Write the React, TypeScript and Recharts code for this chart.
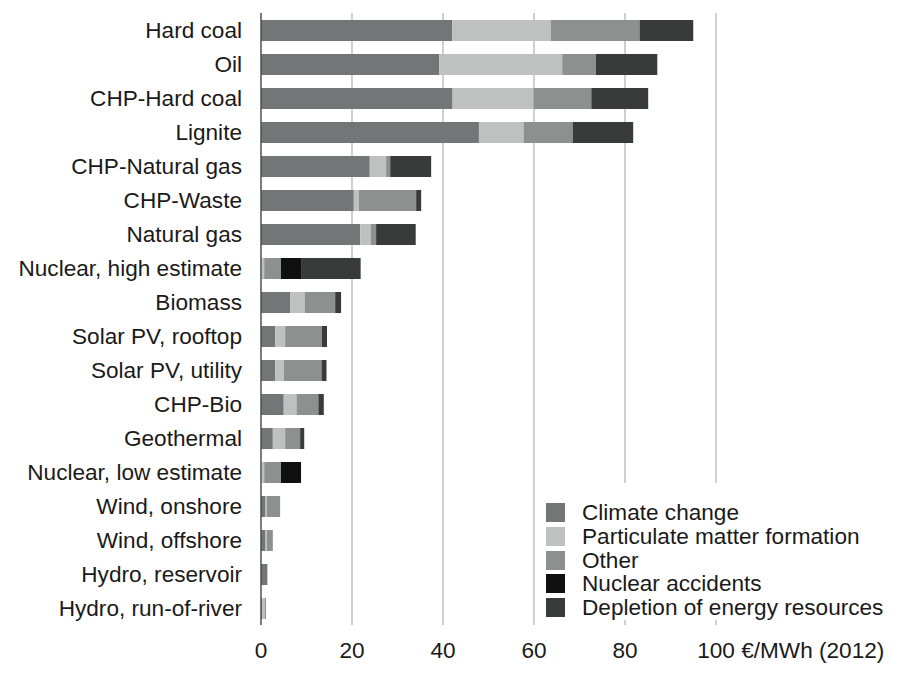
import React from 'react';
import { BarChart, Bar, XAxis, YAxis, CartesianGrid } from 'recharts';

const categories = [
  'Hard coal', 'Oil', 'CHP-Hard coal', 'Lignite', 'CHP-Natural gas', 'CHP-Waste',
  'Natural gas', 'Nuclear, high estimate', 'Biomass', 'Solar PV, rooftop',
  'Solar PV, utility', 'CHP-Bio', 'Geothermal', 'Nuclear, low estimate',
  'Wind, onshore', 'Wind, offshore', 'Hydro, reservoir', 'Hydro, run-of-river',
];
const climateChange = [42.0, 39.2, 42.1, 47.9, 23.9, 20.4, 21.8, 0.1, 6.4, 3.1, 3.1, 5.0, 2.6, 0.1, 1.0, 1.0, 1.4, 0.2];
const particulate = [21.7, 27.0, 17.8, 9.8, 3.6, 1.1, 2.3, 0.6, 3.2, 2.2, 1.9, 2.8, 2.7, 0.6, 0.3, 0.3, 0, 0.6];
const other = [19.5, 7.4, 12.7, 10.8, 0.9, 12.6, 1.2, 3.7, 6.7, 8.1, 8.3, 4.8, 3.3, 3.7, 2.9, 1.3, 0, 0.3];
const nuclearAccidents = [0, 0, 0, 0, 0, 0, 0, 4.4, 0, 0, 0, 0, 0, 4.4, 0, 0, 0, 0];
const depletion = [11.8, 13.5, 12.5, 13.3, 9.0, 1.1, 8.7, 13.1, 1.3, 1.1, 1.1, 1.2, 0.9, 0, 0, 0, 0, 0];
const xTicks = [0, 20, 40, 60, 80, 100];

const seriesNames = ['Climate change', 'Particulate matter formation', 'Other', 'Nuclear accidents', 'Depletion of energy resources'];
const seriesKeys = ['climate', 'pm', 'other', 'nuclear', 'depletion'];
const seriesColors = ['#737677', '#bfc1c1', '#8c9190', '#0f100f', '#393b3a'];

const data = categories.map((name, i) => ({
  name,
  climate: climateChange[i],
  pm: particulate[i],
  other: other[i],
  nuclear: nuclearAccidents[i],
  depletion: depletion[i],
}));

const FONT = '"Liberation Sans", Arial, Helvetica, sans-serif';
const TEXT = '#1a1a1a';
const FS = 22.6;

const YTick = (props: any) => {
  const { y, payload } = props;
  return (
    <text x={242} y={y} dy="0.36em" textAnchor="end" fontSize={FS} fontFamily={FONT} fill={TEXT}>
      {payload.value}
    </text>
  );
};

const XTick = (props: any) => {
  const { x, payload } = props;
  if (payload.value === 100) {
    return (
      <text x={x - 18.8} y={658} textAnchor="start" fontSize={FS} fontFamily={FONT} fill={TEXT}>
        100 €/MWh (2012)
      </text>
    );
  }
  return (
    <text x={x} y={658} textAnchor="middle" fontSize={FS} fontFamily={FONT} fill={TEXT}>
      {payload.value}
    </text>
  );
};

const LegendBox = () => (
  <div style={{ position: 'absolute', left: 535, top: 483, width: 360, height: 137, background: '#fff', fontFamily: FONT, zIndex: 2 }}>
    {seriesNames.map((n, i) => (
      <div key={n} style={{ position: 'absolute', left: 11, top: 20 + i * 23.75, height: 19, display: 'flex', alignItems: 'center' }}>
        <div style={{ width: 19, height: 19, background: seriesColors[i] }} />
        <span style={{ marginLeft: 17, fontSize: FS, color: TEXT, whiteSpace: 'nowrap', lineHeight: '19px' }}>{n}</span>
      </div>
    ))}
  </div>
);

export default function App() {
  return (
    <div style={{ position: 'absolute', left: 0, top: 0, width: 900, height: 675, background: '#fff' }}>
      <BarChart
        width={900}
        height={675}
        data={data}
        layout="vertical"
        margin={{ top: 13, right: 184, bottom: 0, left: 1 }}
        barSize={21}
      >
        <CartesianGrid horizontal={false} vertical={true} stroke="#b0b0b0" strokeWidth={1.2} />
        <XAxis
          type="number"
          domain={[0, 100]}
          ticks={xTicks}
          axisLine={false}
          tickLine={false}
          height={50}
          tick={<XTick />}
          interval={0}
        />
        <YAxis
          type="category"
          dataKey="name"
          width={260}
          axisLine={{ stroke: '#444', strokeWidth: 1.2 }}
          tickLine={false}
          tick={<YTick />}
          interval={0}
        />
        {seriesKeys.map((k, i) => (
          <Bar key={k} dataKey={k} name={seriesNames[i]} stackId="a" fill={seriesColors[i]} isAnimationActive={false} />
        ))}
      </BarChart>
      <LegendBox />
    </div>
  );
}
